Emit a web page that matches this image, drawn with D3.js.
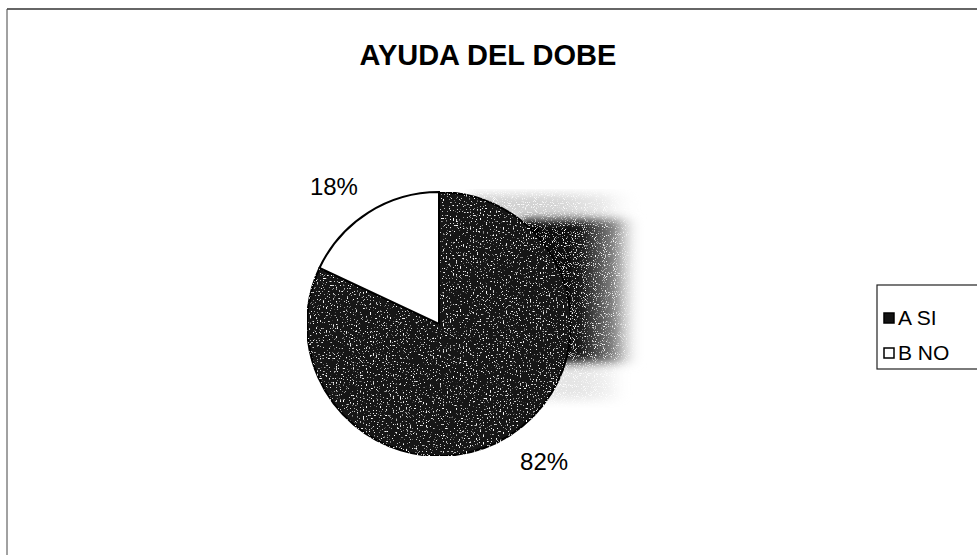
<!DOCTYPE html>
<html>
<head>
<meta charset="utf-8">
<script src="https://cdn.jsdelivr.net/npm/d3@7"></script>
<style>
  body { margin: 0; background: #fff; }
  text { font-family: "Liberation Sans", Arial, sans-serif; }
</style>
</head>
<body>
<svg id="chart" width="977" height="555"></svg>
<script>
(function() {

  // data
  var categories = ["A SI", "B NO"];
  var values = [82, 18];
  var labels = ["82%", "18%"];
  var title = "AYUDA DEL DOBE";

  var width = 977, height = 555;
  var cx = 439, cy = 324, radius = 132;

  var svg = d3.select("#chart");
  var defs = svg.append("defs");

  // speckle filter to mimic the scanned dark fill
  var f = defs.append("filter").attr("id", "speckle")
    .attr("x", 0).attr("y", 0).attr("width", 1).attr("height", 1);
  f.append("feTurbulence").attr("type", "fractalNoise")
    .attr("baseFrequency", 0.7).attr("numOctaves", 1).attr("seed", 4).attr("result", "noise");
  f.append("feColorMatrix").attr("in", "noise").attr("type", "matrix")
    .attr("values", "0 0 0 0 1  0 0 0 0 1  0 0 0 0 1  9 0 0 0 -5.6").attr("result", "spots");
  f.append("feComposite").attr("in", "spots").attr("in2", "SourceGraphic")
    .attr("operator", "in").attr("result", "clipped");
  var fm = f.append("feMerge");
  fm.append("feMergeNode").attr("in", "SourceGraphic");
  fm.append("feMergeNode").attr("in", "clipped");

  // softer, blurred speckle for the scan smudge
  var f2 = defs.append("filter").attr("id", "smudge")
    .attr("x", "-20%").attr("y", "-20%").attr("width", "140%").attr("height", "140%");
  f2.append("feGaussianBlur").attr("in", "SourceGraphic").attr("stdDeviation", 5).attr("result", "blur");
  f2.append("feTurbulence").attr("type", "fractalNoise")
    .attr("baseFrequency", 0.9).attr("numOctaves", 1).attr("seed", 7).attr("result", "noise");
  f2.append("feColorMatrix").attr("in", "noise").attr("type", "matrix")
    .attr("values", "0 0 0 0 1  0 0 0 0 1  0 0 0 0 1  7 0 0 0 -4.1").attr("result", "spots");
  f2.append("feComposite").attr("in", "spots").attr("in2", "blur")
    .attr("operator", "in").attr("result", "clipped");
  var fm2 = f2.append("feMerge");
  fm2.append("feMergeNode").attr("in", "blur");
  fm2.append("feMergeNode").attr("in", "clipped");

  // horizontal fade for the scan shadow right of the pie
  var grad = defs.append("linearGradient").attr("id", "fade");
  grad.append("stop").attr("offset", "0%").attr("stop-color", "#000");
  grad.append("stop").attr("offset", "50%").attr("stop-color", "#151515");
  grad.append("stop").attr("offset", "78%").attr("stop-color", "#888");
  grad.append("stop").attr("offset", "100%").attr("stop-color", "#fff").attr("stop-opacity", 0);

  // frame (only top and left edges show)
  svg.append("line").attr("x1", 7).attr("x2", width).attr("y1", 9).attr("y2", 9)
    .attr("stroke", "#333").attr("stroke-width", 1.5);
  svg.append("line").attr("x1", 7).attr("x2", 7).attr("y1", 9).attr("y2", height)
    .attr("stroke", "#444").attr("stroke-width", 1);

  svg.append("text")
    .attr("x", 488).attr("y", 65)
    .attr("text-anchor", "middle")
    .style("font-size", "29px").style("font-weight", "bold")
    .text(title);

  // shadow smudge
  svg.append("rect").attr("x", 470).attr("y", 194).attr("width", 170).attr("height", 24)
    .attr("fill", "url(#fade)").attr("opacity", 0.18).attr("filter", "url(#smudge)");
  svg.append("rect").attr("x", 520).attr("y", 219).attr("width", 122).attr("height", 144)
    .attr("fill", "url(#fade)").attr("filter", "url(#smudge)");
  svg.append("rect").attr("x", 540).attr("y", 364).attr("width", 90).attr("height", 36)
    .attr("fill", "url(#fade)").attr("opacity", 0.1).attr("filter", "url(#smudge)");

  var pie = d3.pie().sort(null).value(function(d) { return d; });
  var arcs = pie(values);
  var arc = d3.arc().innerRadius(0).outerRadius(radius);
  var labelR = radius + 41, labelShift = -5 * Math.PI / 180;

  var fills = ["#141414", "#ffffff"];

  var g = svg.append("g").attr("transform", "translate(" + cx + "," + cy + ")");

  g.selectAll("path.slice")
    .data(arcs)
    .join("path")
      .attr("class", "slice")
      .attr("d", arc)
      .attr("fill", function(d, i) { return fills[i]; })
      .attr("stroke", "#000")
      .attr("stroke-width", 2)
      .attr("filter", function(d, i) { return i === 0 ? "url(#speckle)" : null; });

  g.selectAll("text.lbl")
    .data(arcs)
    .join("text")
      .attr("class", "lbl")
      .attr("transform", function(d) {
        var a = (d.startAngle + d.endAngle) / 2 + labelShift;
        return "translate(" + (labelR * Math.sin(a)) + "," + (-labelR * Math.cos(a)) + ")";
      })
      .attr("text-anchor", "middle")
      .attr("dy", "0.36em")
      .style("font-size", "24px")
      .text(function(d, i) { return labels[i]; });

  // legend
  var lg = svg.append("g").attr("transform", "translate(877,285)");
  lg.append("rect").attr("x", 0).attr("y", 0).attr("width", 110).attr("height", 84)
    .attr("fill", "#fff").attr("stroke", "#222").attr("stroke-width", 1.2);

  var item = lg.selectAll("g.item")
    .data(categories)
    .join("g")
      .attr("class", "item")
      .attr("transform", function(d, i) { return "translate(0," + (i * 35) + ")"; });

  item.append("rect")
    .attr("x", 7).attr("y", 28).attr("width", 10).attr("height", 10)
    .attr("fill", function(d, i) { return fills[i]; })
    .attr("stroke", "#000").attr("stroke-width", 1.5);

  item.append("text")
    .attr("x", 21).attr("y", 40)
    .style("font-size", "21px")
    .text(function(d) { return d; });

})();
</script>
</body>
</html>
